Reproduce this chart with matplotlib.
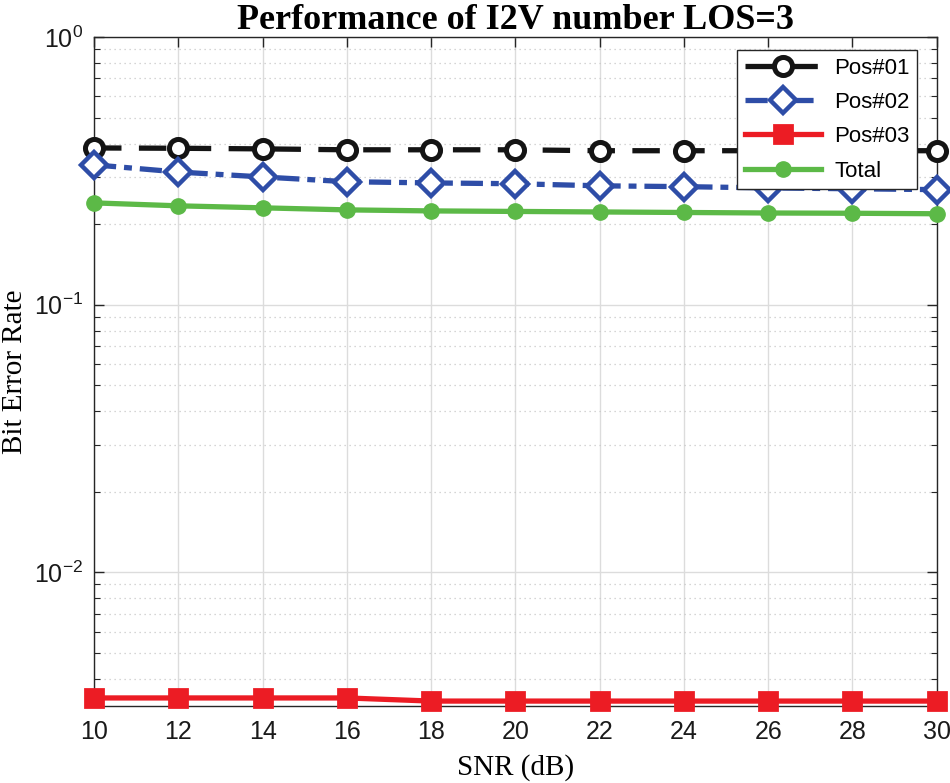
import numpy as np
import matplotlib
matplotlib.use("Agg")
import matplotlib.pyplot as plt
from matplotlib.ticker import LogLocator, NullFormatter

plt.rcParams["mathtext.fontset"] = "custom"
plt.rcParams["mathtext.rm"] = "Liberation Sans"
plt.rcParams["mathtext.it"] = "Liberation Sans:italic"
plt.rcParams["mathtext.bf"] = "Liberation Sans:bold"

# ── Data ─────────────────────────────────────────────────────────────────────
snr_db = [10, 12, 14, 16, 18, 20, 22, 24, 26, 28, 30]

ber_pos01 = [0.385, 0.384, 0.382, 0.379, 0.379, 0.379, 0.376, 0.376, 0.376, 0.376, 0.376]
ber_pos02 = [0.333, 0.313, 0.300, 0.288, 0.285, 0.283, 0.278, 0.276, 0.273, 0.271, 0.269]
ber_pos03 = [0.00339, 0.00339, 0.00339, 0.00339, 0.00330, 0.00330, 0.00330,
             0.00330, 0.00330, 0.00330, 0.00330]
ber_total = [0.240, 0.234, 0.230, 0.226, 0.224, 0.223, 0.222, 0.221, 0.220, 0.2195, 0.2186]

labels = ["Pos#01", "Pos#02", "Pos#03", "Total"]

# ── Figure ───────────────────────────────────────────────────────────────────
fig = plt.figure(figsize=(9.5, 7.83), dpi=100)
ax = fig.add_axes([0.099, 0.0983, 0.887, 0.8544])

lw = 3.8
ax.semilogy(snr_db, ber_pos01, color="#141414", ls=(0, (5.2, 3.3)), lw=lw,
            marker="o", ms=13, mfc="white", mew=3.6, label=labels[0], zorder=4,
            clip_on=False)
ax.semilogy(snr_db, ber_pos02, color="#2E4DA7", ls=(0, (4.2, 1.5, 1.5, 1.5)), lw=lw,
            marker="D", ms=13, mfc="white", mew=3.2, label=labels[1], zorder=4,
            clip_on=False)
ax.semilogy(snr_db, ber_pos03, color="#EC1C24", ls="-", lw=lw,
            marker="s", ms=13, mfc="#EC1C24", mew=2, label=labels[2], zorder=4,
            clip_on=False)
ax.semilogy(snr_db, ber_total, color="#5CB947", ls="-", lw=lw,
            marker="o", ms=11, mfc="#5CB947", mew=1, label=labels[3], zorder=4,
            clip_on=False)

ax.set_xlim(10, 30)
ax.set_ylim(10 ** -2.5, 1)
ax.set_xticks(snr_db)

ax.yaxis.set_major_locator(LogLocator(base=10, numticks=10))
ax.yaxis.set_minor_locator(LogLocator(base=10, subs=np.arange(2, 10), numticks=20))
ax.yaxis.set_minor_formatter(NullFormatter())

ax.grid(True, which="major", color="#DCDCDC", lw=1.0)
ax.grid(True, which="minor", axis="y", color="#C8C8C8", lw=0.9, ls=(0, (1, 3)))
ax.set_axisbelow(True)

ax.tick_params(which="both", direction="in", top=True, right=True,
               colors="#262626", labelcolor="#1a1a1a")
ax.tick_params(which="major", length=7, width=1.0, labelsize=18)
ax.tick_params(axis="x", which="major", pad=10)
ax.tick_params(axis="y", which="major", pad=8)
ax.tick_params(which="minor", length=4, width=0.8)
for sp in ax.spines.values():
    sp.set_color("#262626")
    sp.set_linewidth(1.0)

for lab in ax.get_xticklabels() + ax.get_yticklabels():
    lab.set_family("Liberation Sans")

ax.set_title("Performance of I2V number LOS=3", family="Liberation Serif",
             fontweight="bold", fontsize=26, pad=4)
ax.set_xlabel("SNR (dB)", family="Liberation Serif", fontsize=21, labelpad=7)
ax.set_ylabel("Bit Error Rate", family="Liberation Serif", fontsize=21, labelpad=4)

leg = ax.legend(loc="upper right", bbox_to_anchor=(0.977, 0.981),
                borderaxespad=0.0,
                prop={"family": "Liberation Sans", "size": 16},
                fancybox=False, framealpha=1, edgecolor="#262626",
                handlelength=3.4, borderpad=0.35, labelspacing=0.6,
                handletextpad=0.6)
leg.get_frame().set_linewidth(1.0)
leg.set_zorder(10)

fig.savefig("out.png", dpi=100)
